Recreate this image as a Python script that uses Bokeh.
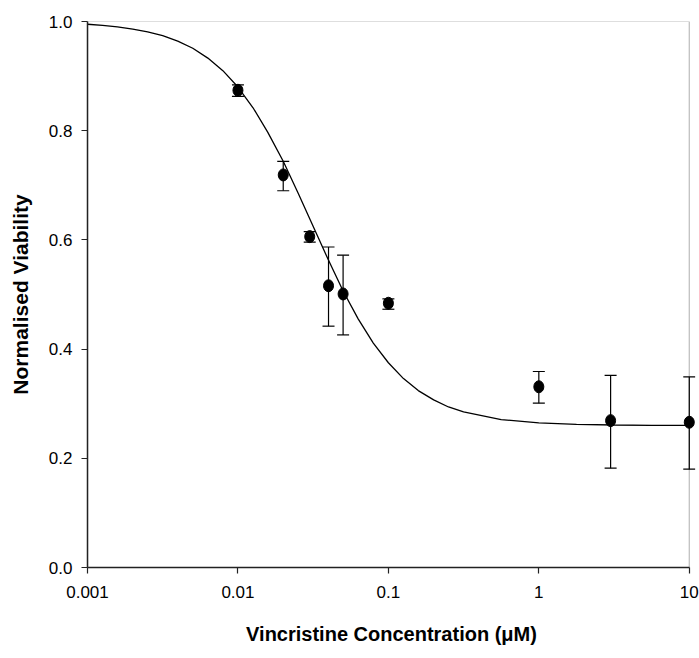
from bokeh.plotting import figure
from bokeh.models import (ColumnDataSource, Whisker, TeeHead, Range1d, FixedTicker,
                          CustomJSTickFormatter, PrintfTickFormatter, BoxAnnotation)
from bokeh.embed import file_html
from bokeh.resources import INLINE

conc = [0.01, 0.02, 0.03, 0.04, 0.05, 0.1, 1, 3, 10]
viability = [0.874, 0.719, 0.606, 0.516, 0.501, 0.484, 0.331, 0.269, 0.266]
err_low = [0.863, 0.690, 0.596, 0.442, 0.426, 0.473, 0.301, 0.182, 0.180]
err_high = [0.884, 0.744, 0.615, 0.587, 0.572, 0.492, 0.359, 0.352, 0.349]

# Fitted curve points
curve_x = [0.001, 0.00126, 0.00158, 0.002, 0.00251, 0.00316, 0.00398, 0.00501, 0.00631,
           0.00794, 0.01, 0.0126, 0.0158, 0.02, 0.0251, 0.0316, 0.0398, 0.0501, 0.0631,
           0.0794, 0.1, 0.126, 0.158, 0.2, 0.251, 0.316, 0.562, 1.0, 1.78, 3.16, 5.62, 10.0]
curve_y = [0.995, 0.993, 0.990, 0.986, 0.981, 0.974, 0.964, 0.951, 0.933,
           0.910, 0.880, 0.842, 0.797, 0.744, 0.686, 0.625, 0.564, 0.506, 0.455,
           0.411, 0.375, 0.346, 0.324, 0.307, 0.294, 0.285, 0.271, 0.265, 0.262, 0.261, 0.2604, 0.2602]

x_ticks = [0.001, 0.01, 0.1, 1, 10]
y_ticks = [0.0, 0.2, 0.4, 0.6, 0.8, 1.0]

x_label = "Vincristine Concentration (\u03bcM)"
y_label = "Normalised Viability"

FONT = "Liberation Sans"

p = figure(width=699, height=652, x_axis_type="log",
           x_range=Range1d(0.001, 11), y_range=Range1d(0, 1),
           output_backend="svg", toolbar_location=None,
           min_border_left=87, min_border_right=4, min_border_top=21, min_border_bottom=85)

p.background_fill_color = "white"
p.border_fill_color = "white"
p.outline_line_color = None
p.xgrid.visible = False
p.ygrid.visible = False

# frame (top/right borders at data limits)
p.add_layout(BoxAnnotation(left=0.001, right=10, bottom=0, top=1,
                           fill_color=None, line_color="#222222", line_width=1.2,
                           level="underlay"))

# curve
p.line(curve_x, curve_y, line_color="black", line_width=1.3)

# error bars
src = ColumnDataSource(dict(x=conc, y=viability, lo=err_low, hi=err_high))
w = Whisker(base="x", lower="lo", upper="hi", source=src,
            line_color="black", line_width=1.2,
            upper_head=TeeHead(size=12, line_color="black", line_width=1.2),
            lower_head=TeeHead(size=12, line_color="black", line_width=1.2))
p.add_layout(w)

# points
p.ellipse(x="x", y="y", width=10, height=12, width_units="screen", height_units="screen",
          source=src, fill_color="black", line_color="black")

# axes
xa = p.xaxis[0]
xa.ticker = FixedTicker(ticks=x_ticks, minor_ticks=[])
xa.formatter = CustomJSTickFormatter(code="return tick.toString();")
xa.bounds = (0.001, 10)
xa.axis_label = x_label
ya = p.yaxis[0]
ya.ticker = FixedTicker(ticks=y_ticks, minor_ticks=[])
ya.formatter = PrintfTickFormatter(format="%.1f")
ya.axis_label = y_label

for ax in (xa, ya):
    ax.axis_line_color = "#222222"
    ax.axis_line_width = 1.5
    ax.major_tick_line_color = "#222222"
    ax.major_tick_line_width = 1.2
    ax.major_tick_in = 0
    ax.major_tick_out = 6
    ax.minor_tick_line_color = None
    ax.major_label_text_font = FONT
    ax.major_label_text_font_size = "17px"
    ax.major_label_text_color = "black"
    ax.axis_label_text_font = FONT
    ax.axis_label_text_font_style = "bold"
    ax.axis_label_text_color = "black"

xa.axis_label_text_font_size = "20px"
ya.axis_label_text_font_size = "21px"
xa.major_label_standoff = 12
xa.axis_label_standoff = 22
ya.major_label_standoff = 9
ya.axis_label_standoff = 14

open("out.html", "w").write(file_html(p, INLINE))
